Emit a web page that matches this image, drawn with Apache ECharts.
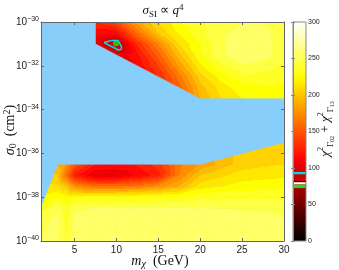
<!DOCTYPE html>
<html>
<head>
<meta charset="utf-8">
<script src="https://cdn.jsdelivr.net/npm/echarts@6.0.0/dist/echarts.min.js"></script>
<style>
html,body{margin:0;padding:0;background:#fff;}
#chart{width:339px;height:270px;}
</style>
</head>
<body>
<div id="chart"></div>
<script>
// ---------- data ----------
const massTicks = [5, 10, 15, 20, 25, 30];
const colorbarTicks = [0, 50, 100, 150, 200, 250, 300];

// upper allowed region (m_chi in GeV, log10 sigma0)
const upperMass = [7.5, 10, 12.5, 15, 17.5, 20, 22.5, 25, 27.5, 30];
const upperLogSigma = [-33.5, -33, -32.5, -32, -31.5, -31, -30.5, -30];
const upperChi2 = [
  [180, 180, 180, 180, 175, 190, 210, 220, 225, 225],
  [150, 150, 150, 150, 155, 195, 215, 225, 228, 228],
  [125, 125, 125, 130, 165, 205, 225, 235, 235, 232],
  [112, 112, 112, 140, 182, 218, 238, 248, 245, 238],
  [100, 100, 118, 155, 197, 228, 248, 260, 255, 243],
  [105,  80, 132, 172, 210, 230, 248, 258, 255, 245],
  [115, 115, 162, 200, 222, 237, 248, 253, 252, 248],
  [130, 145, 185, 210, 228, 238, 245, 250, 250, 248]
];

// lower allowed region
const lowerMass = [1, 3, 4, 5, 7.5, 10, 12.5, 15, 17.5, 20, 25, 30];
const lowerLogSigma = [-40, -39, -38.5, -38, -37.5, -37, -36.5, -36, -35.5];
const lowerChi2 = [
  [250, 253, 240, 253, 253, 253, 253, 253, 253, 258, 253, 252],
  [246, 253, 236, 253, 253, 253, 253, 253, 253, 256, 253, 251],
  [234, 248, 232, 248, 250, 250, 250, 250, 250, 250, 249, 248],
  [222, 228, 226, 228, 230, 230, 230, 230, 232, 236, 238, 238],
  [215, 212, 200, 175, 160, 160, 165, 175, 190, 215, 224, 226],
  [210, 200, 160, 125, 100, 100, 112, 125, 170, 200, 215, 218],
  [205, 190, 178, 150, 120, 118, 122, 135, 168, 182, 205, 210],
  [200, 190, 180, 160, 140, 140, 150, 170, 190, 195, 205, 205],
  [200, 190, 180, 170, 160, 160, 170, 185, 195, 200, 205, 205]
];

// excluded region boundary
const excludedMass = [1, 7.5, 7.5, 20, 30, 30, 20, 3, 1];
const excludedLogSigma = [-30, -30, -31, -33.5, -33.5, -35.5, -36.5, -36.5, -38.43];

// cyan contour and best-fit point
const contourMass = [8.52, 9.47, 10.19, 10.61, 10.55, 10.25, 8.52];
const contourLogSigma = [-30.94, -30.84, -30.84, -31.14, -31.26, -31.28, -30.94];
const bestFitMass = [9.95];
const bestFitLogSigma = [-30.98];

// colorbar marker bands
const cbarMarkerLow = [91.5, 80.5, 77.5, 72.5];
const cbarMarkerHigh = [94.5, 82.0, 80.5, 77.0];
const cbarMarkerColor = ['#00dcef', '#000000', '#ffffff', '#1ee01e'];

// ---------- helpers ----------
const VMAX = 300, STEP = 10;
function hot(t) {
  t = Math.max(0, Math.min(1, t));
  const r = Math.min(1, t / 0.375);
  const g = Math.max(0, Math.min(1, (t - 0.375) / 0.375));
  const b = Math.max(0, Math.min(1, (t - 0.75) / 0.25));
  return 'rgb(' + Math.round(r * 255) + ',' + Math.round(g * 255) + ',' + Math.round(b * 255) + ')';
}
const bandStops = [];
for (let k = 0; k < VMAX / STEP; k++) {
  const c = hot((k + 0.5) * STEP / VMAX);
  bandStops.push({offset: k * STEP / VMAX, color: c}, {offset: (k + 1) * STEP / VMAX, color: c});
}
function bandColor(v) {
  const k = Math.max(0, Math.min(VMAX / STEP - 1, Math.floor(v / STEP)));
  return hot((k + 0.5) * STEP / VMAX);
}
function triFill(p, f) {
  const x0 = p[0][0], y0 = p[0][1];
  const ax = p[1][0] - x0, ay = p[1][1] - y0, bx = p[2][0] - x0, by = p[2][1] - y0;
  const d1 = f[1] - f[0], d2 = f[2] - f[0];
  const det = ax * by - ay * bx;
  if (Math.abs(det) < 1e-9) return bandColor(f[0]);
  const gx = (d1 * by - d2 * ay) / det, gy = (ax * d2 - bx * d1) / det;
  const g2 = gx * gx + gy * gy;
  if (g2 < 1e-10) return bandColor(f[0]);
  const s0 = -f[0] / g2, s1 = (VMAX - f[0]) / g2;
  return new echarts.graphic.LinearGradient(x0 + s0 * gx, y0 + s0 * gy, x0 + s1 * gx, y0 + s1 * gy, bandStops, true);
}
function fieldSeries(M, Ls, V, diag) {
  const data = [];
  for (let j = 0; j < Ls.length - 1; j++)
    for (let i = 0; i < M.length - 1; i++) data.push([M[i], Ls[j], i, j]);
  return {
    type: 'custom', xAxisIndex: 0, yAxisIndex: 0, clip: true, z: 1, silent: true, data,
    renderItem(params, api) {
      const i = api.value(2), j = api.value(3);
      const P = (a, b) => api.coord([M[a], Ls[b]]);
      const p00 = P(i, j), p10 = P(i + 1, j), p01 = P(i, j + 1), p11 = P(i + 1, j + 1);
      const f00 = V[j][i], f10 = V[j][i + 1], f01 = V[j + 1][i], f11 = V[j + 1][i + 1];
      const tris = diag === 'main'
        ? [[[p00, p10, p11], [f00, f10, f11]], [[p00, p11, p01], [f00, f11, f01]]]
        : [[[p00, p10, p01], [f00, f10, f01]], [[p10, p11, p01], [f10, f11, f01]]];
      return {
        type: 'group',
        children: tris.map(t => {
          const fill = triFill(t[0], t[1]);
          return {type: 'polygon', shape: {points: t[0]}, style: {fill: fill, stroke: fill, lineWidth: 0.7}};
        })
      };
    }
  };
}

// ---------- chart ----------
const chart = echarts.init(document.getElementById('chart'), null, {renderer: 'canvas'});
const axisColor = '#666';
const serif = 'Liberation Serif';
const sans = 'Liberation Sans';

const mainAxisCommon = {
  type: 'value', gridIndex: 0,
  axisLine: {show: true, onZero: false, lineStyle: {color: axisColor, width: 1}},
  splitLine: {show: false}, z: 10
};

const option = {
  animation: false,
  backgroundColor: '#ffffff',
  grid: [
    {left: 41, top: 22, width: 243, height: 219, show: true, backgroundColor: '#87CEFA', borderWidth: 0},
    {left: 293, top: 22, width: 13, height: 219, show: false}
  ],
  xAxis: [
    Object.assign({}, mainAxisCommon, {
      min: 1, max: 30, position: 'bottom',
      axisTick: {inside: true, length: 3, customValues: massTicks, lineStyle: {color: axisColor}},
      axisLabel: {customValues: massTicks, fontSize: 10, fontFamily: sans, color: '#222', margin: 4}
    }),
    Object.assign({}, mainAxisCommon, {
      min: 1, max: 30, position: 'top',
      axisTick: {inside: true, length: 3, customValues: massTicks, lineStyle: {color: axisColor}},
      axisLabel: {show: false}
    }),
    {type: 'value', gridIndex: 1, min: 0, max: 1, show: false}
  ],
  yAxis: [
    Object.assign({}, mainAxisCommon, {
      min: -40, max: -30, interval: 2, position: 'left',
      axisTick: {inside: true, length: 3, lineStyle: {color: axisColor}},
      axisLabel: {
        margin: 2, color: '#222',
        formatter: v => '{a|10}{b|' + (v < 0 ? '\u2212' : '') + Math.abs(v) + '}',
        rich: {
          a: {fontSize: 10, fontFamily: sans, color: '#222', lineHeight: 12, verticalAlign: 'middle'},
          b: {fontSize: 7, fontFamily: sans, color: '#222', lineHeight: 7, verticalAlign: 'top'}
        }
      }
    }),
    Object.assign({}, mainAxisCommon, {
      min: -40, max: -30, interval: 2, position: 'right',
      axisTick: {inside: true, length: 3, lineStyle: {color: axisColor}},
      axisLabel: {show: false}
    }),
    {
      type: 'value', gridIndex: 1, min: 0, max: 300, interval: 50, position: 'right', z: 10,
      axisLine: {show: true, lineStyle: {color: '#888'}},
      axisTick: {inside: true, length: 2, lineStyle: {color: '#888'}},
      axisLabel: {fontSize: 7, fontFamily: sans, color: '#222', margin: 2},
      splitLine: {show: false}
    },
    {
      type: 'value', gridIndex: 1, min: 0, max: 300, interval: 50, position: 'left', z: 10,
      axisLine: {show: true, lineStyle: {color: '#888'}},
      axisTick: {inside: true, length: 2, lineStyle: {color: '#888'}},
      axisLabel: {show: false},
      splitLine: {show: false}
    }
  ],
  series: [
    fieldSeries(upperMass, upperLogSigma, upperChi2, 'anti'),
    fieldSeries(lowerMass, lowerLogSigma, lowerChi2, 'main'),
    {
      type: 'custom', xAxisIndex: 0, yAxisIndex: 0, clip: true, z: 3, silent: true,
      data: [[excludedMass[0], excludedLogSigma[0]]],
      renderItem(params, api) {
        const pts = excludedMass.map((m, k) => api.coord([m, excludedLogSigma[k]]));
        return {type: 'polygon', shape: {points: pts}, style: {fill: '#87CEFA', stroke: '#87CEFA', lineWidth: 0.5}};
      }
    },
    {
      type: 'line', xAxisIndex: 0, yAxisIndex: 0, z: 5, silent: true,
      data: contourMass.map((m, k) => [m, contourLogSigma[k]]),
      symbol: 'none', smooth: false,
      lineStyle: {color: '#00dcef', width: 1.5}
    },
    {
      type: 'scatter', xAxisIndex: 0, yAxisIndex: 0, z: 6, silent: true,
      data: bestFitMass.map((m, k) => [m, bestFitLogSigma[k]]),
      symbol: 'circle', symbolSize: 6,
      itemStyle: {color: '#1ee01e'}
    },
    {
      type: 'custom', xAxisIndex: 2, yAxisIndex: 2, z: 1, silent: true,
      data: [[0, 0]],
      renderItem(params, api) {
        const a = api.coord([0, colorbarTicks[colorbarTicks.length - 1]]);
        const b = api.coord([1, colorbarTicks[0]]);
        const stops = [];
        for (let k = 0; k <= 30; k++) stops.push({offset: k / 30, color: hot(1 - k / 30)});
        return {
          type: 'rect',
          shape: {x: a[0], y: a[1], width: b[0] - a[0], height: b[1] - a[1]},
          style: {fill: new echarts.graphic.LinearGradient(0, 0, 0, 1, stops), stroke: '#888', lineWidth: 1}
        };
      }
    },
    {
      type: 'custom', xAxisIndex: 2, yAxisIndex: 2, z: 2, silent: true,
      data: cbarMarkerLow.map((lo, k) => [0, lo, cbarMarkerHigh[k], k]),
      renderItem(params, api) {
        const lo = api.value(1), hi = api.value(2), k = api.value(3);
        const a = api.coord([0, hi]), b = api.coord([1, lo]);
        return {
          type: 'rect',
          shape: {x: a[0] + 0.5, y: a[1], width: b[0] - a[0] - 1, height: b[1] - a[1]},
          style: {fill: cbarMarkerColor[k]}
        };
      }
    }
  ],
  graphic: [
    {
      type: 'text', x: 163, y: 11, z: 20,
      style: {
        text: '{i|σ}{sub|SI}{n| ∝ }{i|q}{sup|4}', align: 'center', verticalAlign: 'middle',
        rich: {
          i: {fontFamily: serif, fontStyle: 'italic', fontSize: 13, lineHeight: 16, verticalAlign: 'middle', fill: '#111'},
          n: {fontFamily: serif, fontSize: 13, lineHeight: 16, verticalAlign: 'middle', fill: '#111'},
          sub: {fontFamily: serif, fontSize: 9, lineHeight: 9, verticalAlign: 'bottom', fill: '#111'},
          sup: {fontFamily: serif, fontSize: 9, lineHeight: 9, verticalAlign: 'top', fill: '#111'}
        }
      }
    },
    {
      type: 'text', x: 160, y: 261, z: 20,
      style: {
        text: '{i|m}{sub|χ}{n|  (GeV)}', align: 'center', verticalAlign: 'middle',
        rich: {
          i: {fontFamily: serif, fontStyle: 'italic', fontSize: 14, lineHeight: 16, verticalAlign: 'middle', fill: '#111'},
          n: {fontFamily: serif, fontSize: 14, lineHeight: 16, verticalAlign: 'middle', fill: '#111'},
          sub: {fontFamily: serif, fontStyle: 'italic', fontSize: 10, lineHeight: 10, verticalAlign: 'bottom', fill: '#111'}
        }
      }
    },
    {
      type: 'text', x: 10, y: 130, rotation: Math.PI / 2, z: 20,
      style: {
        text: '{i|σ}{sub|0}{n|  (cm}{sup|2}{n|)}', align: 'center', verticalAlign: 'middle',
        rich: {
          i: {fontFamily: serif, fontStyle: 'italic', fontSize: 14, lineHeight: 16, verticalAlign: 'middle', fill: '#111'},
          n: {fontFamily: serif, fontSize: 14, lineHeight: 16, verticalAlign: 'middle', fill: '#111'},
          sub: {fontFamily: serif, fontSize: 10, lineHeight: 10, verticalAlign: 'bottom', fill: '#111'},
          sup: {fontFamily: serif, fontSize: 10, lineHeight: 10, verticalAlign: 'top', fill: '#111'}
        }
      }
    },
    {
      type: 'text', x: 326, y: 129, rotation: Math.PI / 2, z: 20,
      style: {
        text: '{i|χ}{sup|2}{sub|Γ}{ss|02}{n| + }{i|χ}{sup|2}{sub|Γ}{ss|13}', align: 'center', verticalAlign: 'middle',
        rich: {
          i: {fontFamily: serif, fontStyle: 'italic', fontSize: 13, lineHeight: 18, verticalAlign: 'middle', fill: '#111'},
          n: {fontFamily: serif, fontSize: 13, lineHeight: 18, verticalAlign: 'middle', fill: '#111'},
          sup: {fontFamily: serif, fontSize: 8, lineHeight: 8, verticalAlign: 'top', fill: '#111'},
          sub: {fontFamily: serif, fontSize: 9, lineHeight: 11, verticalAlign: 'bottom', fill: '#111'},
          ss: {fontFamily: serif, fontSize: 6, lineHeight: 6, verticalAlign: 'bottom', fill: '#111'}
        }
      }
    }
  ]
};
chart.setOption(option);
</script>
</body>
</html>
